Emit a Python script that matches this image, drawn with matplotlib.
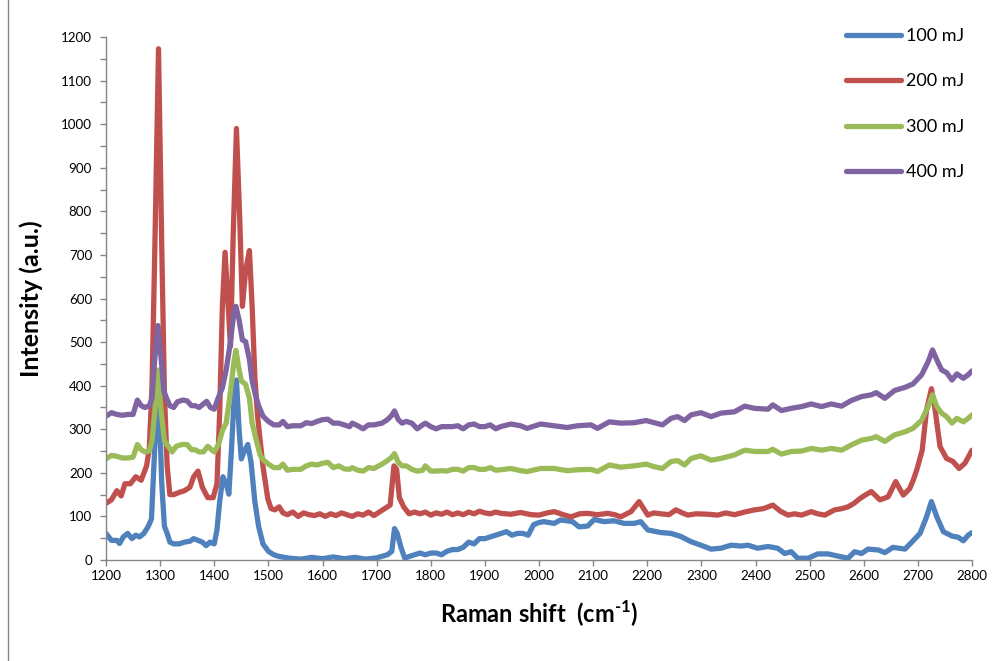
import matplotlib
matplotlib.use("Agg")
import matplotlib.pyplot as plt
from matplotlib.lines import Line2D

plt.rcParams['font.family'] = ['Lato', 'DejaVu Sans']
plt.rcParams['mathtext.fontset'] = 'custom'
plt.rcParams['mathtext.rm'] = 'Lato:bold'
plt.rcParams['mathtext.bf'] = 'Lato:bold'

# ---- data ----
x_100 = [1200, 1210, 1220, 1225, 1232, 1240, 1248, 1255, 1262, 1270, 1278, 1284, 1290, 1297, 1303, 1308, 1313, 1318, 1325,
         1335, 1345, 1355, 1362, 1370, 1378, 1385, 1392, 1400, 1405, 1410, 1416, 1422, 1427, 1432, 1438, 1441, 1446, 1450, 1455, 1462, 1468, 1475, 1482, 1490,
         1500, 1510, 1520, 1540, 1560, 1580, 1600, 1620, 1640, 1660, 1680, 1700, 1720, 1728, 1733, 1738, 1745, 1752, 1760, 1770,
         1780, 1790, 1800, 1810, 1820, 1830, 1840, 1850, 1860, 1870, 1880, 1890, 1900, 1910, 1920, 1930, 1940, 1950, 1960, 1970, 1980, 1990, 2000,
         2009, 2028, 2040, 2062, 2074, 2090, 2102, 2120, 2139, 2157, 2176, 2188, 2201, 2225, 2244, 2262, 2281, 2299, 2318, 2336,
         2355, 2373, 2386, 2404, 2423, 2441, 2454, 2466, 2478, 2497, 2515, 2534, 2552, 2571, 2583, 2596, 2608, 2627, 2639, 2654,
         2676, 2688, 2704, 2716, 2725, 2735, 2747, 2763, 2775, 2784, 2793, 2800]
y_100 = [61, 45, 45, 38, 53, 61, 49, 57, 53, 61, 77, 94, 257, 405, 175, 77, 61, 41, 37,
         37, 41, 43, 49, 45, 41, 33, 41, 37, 69, 134, 191, 175, 151, 257, 403, 413, 297, 232, 248, 265, 224, 134, 77, 37,
         20, 12, 8, 4, 2, 6, 3, 7, 3, 6, 2, 5, 12, 20, 72, 61, 29, 4, 8, 12,
         16, 12, 16, 16, 12, 20, 24, 24, 29, 41, 37, 49, 49, 53, 57, 61, 65, 57, 61, 61, 57, 81, 86,
         88, 84, 92, 88, 76, 78, 93, 88, 90, 84, 84, 88, 69, 63, 61, 54, 42, 34, 25, 27,
         34, 32, 34, 27, 31, 27, 15, 19, 4, 4, 14, 14, 9, 4, 19, 15, 25, 23, 17, 29,
         25, 40, 61, 99, 134, 99, 65, 55, 52, 44, 57, 63]

x_200 = [1200, 1210, 1220, 1228, 1235, 1245, 1255, 1265, 1275, 1280, 1285, 1290, 1297, 1303, 1308, 1313, 1318, 1325, 1335, 1345,
         1355, 1362, 1370, 1378, 1388, 1398, 1405, 1410, 1415, 1420, 1425, 1430, 1435, 1441, 1447, 1452, 1458, 1465, 1470, 1475,
         1480, 1490, 1499, 1505, 1512, 1520, 1527, 1535, 1545, 1555, 1565, 1575, 1585, 1595, 1605, 1615, 1625, 1635, 1645, 1655,
         1665, 1675, 1685, 1695, 1705, 1715, 1725, 1732, 1737, 1742, 1750, 1760, 1770, 1780, 1790, 1800, 1810, 1820, 1830, 1840,
         1850, 1860, 1870, 1880, 1890, 1900, 1910, 1920, 1930, 1948, 1966, 1985, 2000, 2015, 2028, 2045, 2059, 2075, 2090, 2108,
         2127, 2140, 2151, 2170, 2185, 2201, 2212, 2225, 2240, 2253, 2265, 2275, 2290, 2312, 2330, 2345, 2361, 2380, 2398, 2415,
         2432, 2446, 2460, 2472, 2485, 2503, 2515, 2528, 2546, 2560, 2571, 2582, 2593, 2604, 2614, 2630, 2645, 2659, 2673, 2685,
         2692, 2698, 2708, 2716, 2725, 2731, 2741, 2753, 2765, 2776, 2787, 2800]
y_200 = [130, 138, 159, 147, 175, 175, 191, 183, 216, 256, 400, 700, 1173, 720, 380, 216, 150, 150, 155, 159,
         167, 191, 204, 167, 143, 143, 175, 338, 582, 706, 600, 490, 745, 990, 786, 582, 664, 710, 582, 420,
         330, 215, 140, 118, 115, 122, 108, 104, 110, 100, 108, 104, 102, 106, 100, 106, 102, 108, 104, 100,
         106, 103, 110, 102, 110, 118, 126, 216, 208, 143, 122, 106, 110, 106, 110, 103, 108, 105, 110, 104,
         108, 104, 110, 106, 112, 108, 106, 110, 107, 105, 109, 104, 103, 108, 111, 104, 99, 106, 107, 104,
         107, 104, 99, 111, 134, 103, 108, 106, 104, 115, 108, 103, 106, 105, 103, 108, 104, 110, 115, 118,
         126, 112, 103, 106, 103, 111, 106, 103, 115, 118, 122, 130, 141, 150, 157, 138, 145, 180, 149, 164,
         185, 207, 252, 344, 393, 352, 260, 233, 226, 210, 222, 252]

x_300 = [1200, 1210, 1220, 1230, 1240, 1250, 1258, 1265, 1272, 1280, 1285, 1290, 1296, 1302, 1308, 1315, 1322, 1330, 1340, 1350,
         1358, 1365, 1372, 1380, 1388, 1395, 1400, 1408, 1415, 1422, 1430, 1436, 1440, 1446, 1450, 1458, 1465, 1470, 1478, 1485,
         1492, 1500, 1510, 1520, 1527, 1535, 1545, 1560, 1570, 1580, 1590, 1600, 1610, 1620, 1630, 1640, 1650, 1655, 1665, 1675,
         1685, 1695, 1710, 1720, 1728, 1733, 1740, 1747, 1755, 1765, 1775, 1785, 1790, 1800, 1810, 1820, 1830, 1840, 1850, 1860,
         1870, 1880, 1890, 1900, 1910, 1920, 1929, 1948, 1966, 1978, 2003, 2028, 2052, 2071, 2096, 2108, 2130, 2151, 2176, 2198,
         2213, 2228, 2244, 2256, 2269, 2281, 2299, 2318, 2336, 2361, 2380, 2398, 2423, 2432, 2448, 2466, 2485, 2503, 2522, 2540,
         2559, 2577, 2596, 2614, 2623, 2639, 2657, 2676, 2691, 2707, 2719, 2727, 2735, 2744, 2753, 2763, 2772, 2784, 2793, 2800]
y_300 = [232, 240, 238, 234, 234, 236, 265, 253, 248, 250, 273, 338, 436, 338, 273, 261, 248, 261, 265, 265,
         253, 253, 248, 248, 261, 253, 248, 265, 297, 314, 387, 452, 481, 436, 411, 403, 371, 314, 273, 240,
         228, 220, 212, 212, 220, 206, 208, 208, 216, 220, 218, 222, 224, 212, 216, 209, 208, 212, 206, 204,
         212, 210, 220, 228, 236, 244, 224, 216, 216, 208, 204, 206, 216, 204, 204, 205, 204, 208, 208, 204,
         212, 212, 208, 208, 212, 206, 207, 210, 205, 203, 210, 210, 205, 207, 208, 203, 218, 213, 216, 220,
         214, 210, 226, 228, 218, 233, 239, 229, 233, 241, 252, 249, 249, 254, 243, 249, 250, 256, 252, 256,
         252, 264, 275, 279, 283, 272, 287, 294, 302, 321, 352, 379, 352, 337, 329, 314, 325, 317, 325, 333]

x_400 = [1200, 1210, 1220, 1230, 1240, 1250, 1258, 1265, 1272, 1280, 1285, 1290, 1296, 1302, 1307, 1312, 1318, 1325, 1332, 1342,
         1350, 1358, 1365, 1372, 1380, 1386, 1393, 1400, 1407, 1415, 1422, 1430, 1436, 1440, 1446, 1452, 1458, 1465, 1470, 1476,
         1482, 1490, 1500, 1510, 1520, 1527, 1535, 1545, 1560, 1570, 1580, 1590, 1600, 1610, 1620, 1630, 1640, 1650, 1655, 1665,
         1675, 1685, 1695, 1710, 1720, 1728, 1733, 1740, 1747, 1755, 1765, 1775, 1785, 1790, 1800, 1810, 1820, 1830, 1840, 1850,
         1860, 1870, 1880, 1890, 1900, 1910, 1920, 1929, 1948, 1966, 1978, 2003, 2028, 2052, 2071, 2096, 2108, 2130, 2151, 2176,
         2198, 2213, 2228, 2244, 2256, 2269, 2281, 2299, 2318, 2336, 2361, 2380, 2398, 2423, 2432, 2448, 2466, 2485, 2503, 2522,
         2540, 2559, 2577, 2596, 2614, 2623, 2639, 2657, 2676, 2691, 2707, 2719, 2727, 2735, 2744, 2753, 2763, 2772, 2784, 2793, 2800]
y_400 = [330, 338, 334, 332, 334, 334, 367, 354, 350, 354, 371, 460, 538, 460, 387, 371, 354, 350, 363, 367,
         365, 354, 354, 350, 358, 364, 350, 346, 371, 395, 436, 501, 566, 582, 550, 505, 501, 460, 411, 379,
         354, 330, 318, 310, 310, 318, 306, 308, 308, 315, 313, 318, 322, 323, 314, 314, 310, 306, 314, 308,
         301, 310, 310, 314, 322, 332, 342, 322, 314, 318, 314, 301, 310, 314, 306, 301, 306, 306, 306, 308,
         301, 310, 312, 306, 306, 310, 301, 306, 312, 308, 302, 312, 308, 304, 308, 310, 302, 317, 314, 315,
         320, 315, 310, 325, 329, 320, 333, 338, 329, 337, 340, 353, 348, 346, 356, 343, 348, 352, 358, 352,
         358, 353, 366, 375, 379, 384, 371, 389, 396, 404, 425, 455, 482, 459, 436, 430, 413, 427, 417, 425, 434]

labels = ['100 mJ', '200 mJ', '300 mJ', '400 mJ']
colors = ['#4F81BD', '#C0504D', '#9BBB59', '#8064A2']
x_ticks = list(range(1200, 2801, 100))
y_ticks = list(range(0, 1201, 100))

fig = plt.figure(figsize=(9.97, 6.61), dpi=100)
ax = fig.add_axes([106 / 997, 1 - 560 / 661, 866 / 997, 523 / 661])

for xs, ys, lab, col in zip([x_100, x_200, x_300, x_400], [y_100, y_200, y_300, y_400], labels, colors):
    ax.plot(xs, ys, color=col, lw=3.8, label=lab, solid_joinstyle='round', solid_capstyle='round')

ax.set_xlim(1200, 2800)
ax.set_ylim(0, 1200)
ax.set_xticks(x_ticks)
ax.set_yticks(y_ticks)
ax.set_yticks(list(range(50, 1200, 100)), minor=True)

grey = '#868686'
for s in ['top', 'right']:
    ax.spines[s].set_visible(False)
for s in ['left', 'bottom']:
    ax.spines[s].set_color(grey)
    ax.spines[s].set_linewidth(1.0)
ax.tick_params(axis='both', which='both', direction='out', color=grey, length=4, width=1)
ax.tick_params(axis='x', labelsize=9.6, pad=3)
ax.tick_params(axis='y', labelsize=9.6, pad=6)

ax.set_xlabel(r'Raman shift  (cm$^{\text{-}1}$)', fontsize=17, fontweight='bold', labelpad=12)
ax.set_ylabel('Intensity (a.u.)', fontsize=18, fontweight='bold', labelpad=13)

ax.legend(loc='upper left', bbox_to_anchor=(846 / 997, 1 - 28 / 661), bbox_transform=fig.transFigure,
          frameon=False, fontsize=13, handlelength=3.05, handletextpad=0.25, labelspacing=1.63,
          borderpad=0, borderaxespad=0)

# thin chart-area border at the left edge
fig.add_artist(Line2D([8 / 997, 8 / 997], [0, 1], color=grey, lw=1, transform=fig.transFigure))

fig.savefig('out.png', dpi=100)
